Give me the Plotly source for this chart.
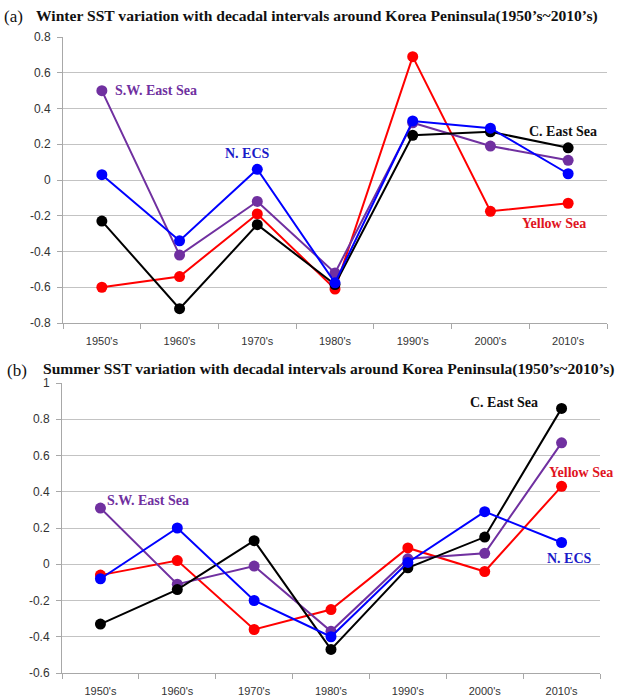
import plotly.graph_objects as go

decades = ["1950's", "1960's", "1970's", "1980's", "1990's", "2000's", "2010's"]

# Winter (a)
w_yellow = [-0.60, -0.54, -0.19, -0.61, 0.69, -0.175, -0.13]
w_swes = [0.50, -0.42, -0.12, -0.52, 0.32, 0.19, 0.11]
w_ces = [-0.23, -0.72, -0.25, -0.585, 0.25, 0.27, 0.18]
w_necs = [0.03, -0.34, 0.06, -0.575, 0.33, 0.29, 0.035]

# Summer (b)
s_yellow = [-0.06, 0.02, -0.36, -0.25, 0.09, -0.04, 0.43]
s_swes = [0.31, -0.11, -0.01, -0.37, 0.03, 0.06, 0.67]
s_ces = [-0.33, -0.14, 0.13, -0.47, -0.02, 0.15, 0.86]
s_necs = [-0.08, 0.20, -0.20, -0.40, 0.01, 0.29, 0.12]

w_ticks = [0.8, 0.6, 0.4, 0.2, 0, -0.2, -0.4, -0.6, -0.8]
w_ticktext = ["0.8", "0.6", "0.4", "0.2", "0", "-0.2", "-0.4", "-0.6", "-0.8"]
s_ticks = [1, 0.8, 0.6, 0.4, 0.2, 0, -0.2, -0.4, -0.6]
s_ticktext = ["1", "0.8", "0.6", "0.4", "0.2", "0", "-0.2", "-0.4", "-0.6"]

title_a = "Winter SST variation with decadal intervals around Korea Peninsula(1950\u2019s~2010\u2019s)"
title_b = "Summer SST variation with decadal intervals around Korea Peninsula(1950\u2019s~2010\u2019s)"

colors = {"yellow": "#FF0000", "swes": "#7030A0", "ces": "#000000", "necs": "#0000FF"}
label_colors = {"yellow": "#E0141E", "swes": "#7030A0", "ces": "#111111", "necs": "#1A1AC8"}

fig = go.Figure()

def add_series(vals, key, xa, ya):
    fig.add_trace(go.Scatter(
        x=decades, y=vals, mode="lines+markers", xaxis=xa, yaxis=ya,
        line=dict(color=colors[key], width=2),
        marker=dict(color=colors[key], size=11, symbol="circle"),
        showlegend=False, hoverinfo="skip"))

for vals, key in [(w_yellow, "yellow"), (w_swes, "swes"), (w_ces, "ces"), (w_necs, "necs")]:
    add_series(vals, key, "x", "y")
for vals, key in [(s_yellow, "yellow"), (s_swes, "swes"), (s_ces, "ces"), (s_necs, "necs")]:
    add_series(vals, key, "x2", "y2")

W, H = 627, 698
grid = "#C3C3C3"
axcol = "#A8A8A8"
ytickfont = dict(family="Liberation Sans, Arial, sans-serif", size=12, color="#333333")
xtickfont = dict(family="Liberation Sans, Arial, sans-serif", size=11, color="#333333")

def xaxis(dom, anchor):
    return dict(domain=dom, anchor=anchor, type="category", range=[-0.5, 6.5],
                showgrid=False, showline=True, linecolor=axcol, linewidth=1,
                ticks="outside", tickson="boundaries", ticklen=5, tickcolor=axcol,
                tickfont=xtickfont, ticklabelstandoff=8, fixedrange=True,
                automargin=False)

def yaxis(dom, anchor, rng, tv, tt):
    return dict(domain=dom, anchor=anchor, range=rng, tickvals=tv, ticktext=tt,
                showgrid=True, gridcolor=grid, gridwidth=1, zeroline=False,
                showline=True, linecolor=axcol, linewidth=1,
                ticks="outside", ticklen=5, tickcolor=axcol,
                tickfont=ytickfont, ticklabelstandoff=4, fixedrange=True,
                automargin=False)

fig.update_layout(
    width=W, height=H, margin=dict(l=0, r=0, t=0, b=0, pad=0, autoexpand=False),
    paper_bgcolor="white", plot_bgcolor="white",
    xaxis=xaxis([63 / W, 607 / W], "y"),
    yaxis=yaxis([1 - 323 / H, 1 - 37 / H], "x", [-0.8, 0.8], w_ticks, w_ticktext),
    xaxis2=xaxis([62 / W, 600 / W], "y2"),
    yaxis2=yaxis([1 - 673 / H, 1 - 383 / H], "x2", [-0.6, 1.0], s_ticks, s_ticktext),
)

lab_font = "Liberation Serif, Times New Roman, serif"

def label(text, key, x, y, xref, yref, anchor="center"):
    fig.add_annotation(text="<b>%s</b>" % text, x=x, y=y, xref=xref, yref=yref,
                       xanchor=anchor, yanchor="middle", showarrow=False,
                       font=dict(family=lab_font, size=14, color=label_colors[key]))

# panel (a) labels
label("S.W. East Sea", "swes", 0.14, 0.50, "x", "y", "left")
label("N. ECS", "necs", 1.88, 0.15, "x", "y")
label("C. East Sea", "ces", 5.94, 0.27, "x", "y")
label("Yellow Sea", "yellow", 5.82, -0.245, "x", "y")
# panel (b) labels
label("S.W. East Sea", "swes", 0.06, 0.35, "x2", "y2", "left")
label("C. East Sea", "ces", 5.25, 0.89, "x2", "y2")
label("Yellow Sea", "yellow", 6.25, 0.505, "x2", "y2")
label("N. ECS", "necs", 6.1, 0.03, "x2", "y2")

def title(letter, text, ypix, xl, xt):
    fig.add_annotation(text=letter, x=xl / W, y=1 - ypix / H, xref="paper", yref="paper",
                       xanchor="left", yanchor="middle", showarrow=False,
                       font=dict(family=lab_font, size=17, color="#111111"))
    fig.add_annotation(text="<b>%s</b>" % text, x=xt / W, y=1 - (ypix - 1) / H,
                       xref="paper", yref="paper", xanchor="left", yanchor="middle",
                       showarrow=False,
                       font=dict(family=lab_font, size=15.6, color="#111111"))

title("(a)", title_a, 17, 2, 34)
title("(b)", title_b, 370, 5, 41)

fig.write_html("out.html", config={"displayModeBar": False},
               post_script="document.body.style.margin='0px';")
